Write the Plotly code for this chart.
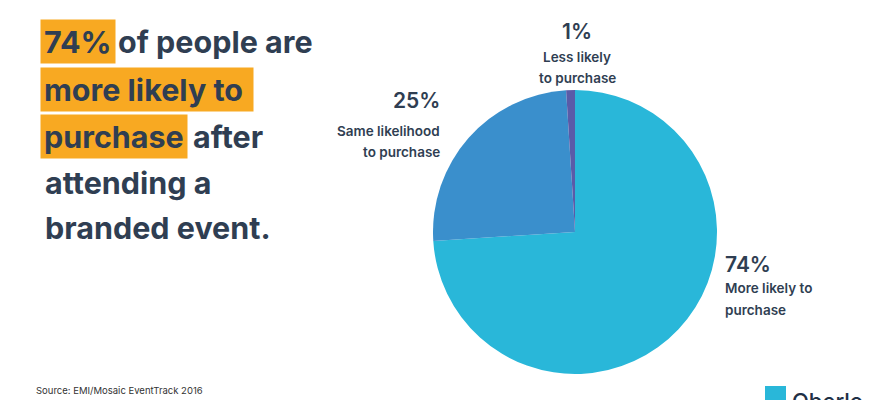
import plotly.graph_objects as go

# Pie data, clockwise from 12 o'clock
labels = ["More likely to purchase", "Same likelihood to purchase", "Less likely to purchase"]
values = [74, 25, 1]
colors = ["#29b7d9", "#3a8fcc", "#5a5ba8"]

W, H = 870, 400
NAVY = "#2f3e52"
ORANGE = "#f8a922"
FONT = "Inter"


def px(x):
    return x / W


def py(y):
    return 1 - y / H


fig = go.Figure(go.Pie(
    labels=labels, values=values, sort=False, direction="clockwise", rotation=0,
    marker=dict(colors=colors, line=dict(width=0)),
    textinfo="none", hoverinfo="label+percent",
    domain=dict(x=[px(433), px(717)], y=[py(374), py(90)]),
))

ann = []


def text(x, y, s, size, anchor="left", bg=None, weight="bold", color=NAVY):
    ann.append(dict(
        x=px(x), y=py(y), xref="paper", yref="paper", text=s, showarrow=False,
        xanchor=anchor, yanchor="middle",
        font=dict(family=FONT, size=size, color=color, weight=weight),
        bgcolor=bg, borderpad=3 if bg else 0,
    ))


# headline with highlighted words
text(40, 42, "74%", 30.5, bg=ORANGE)
text(117, 42, "of people are", 30.5)
text(40, 89, "more likely to ", 30.5, bg=ORANGE)
text(40, 136, "purchase", 30.5, bg=ORANGE)
text(192, 136, "after", 30.5)
text(44, 182, "attending a", 30.5)
text(44, 227, "branded event.", 30.5)

# slice labels
text(577, 32, "1%", 21, anchor="center", weight=600)
text(577, 57, "Less likely", 13.5, anchor="center", weight=600)
text(577, 78, "to purchase", 13.5, anchor="center", weight=600)

text(441, 101, "25%", 21, anchor="right", weight=600)
text(441, 131, "Same likelihood", 13.5, anchor="right", weight=600)
text(441, 152, "to purchase", 13.5, anchor="right", weight=600)

text(724, 264, "74%", 21, weight=600)
text(724, 288, "More likely to", 13.5, weight=600)
text(724, 310, "purchase", 13.5, weight=600)

# source and logo
text(35, 390, "Source: EMI/Mosaic EventTrack 2016", 9.5, weight="normal", color="#333333")
text(791, 401, "Oberlo", 22, weight=500, color="#1f3046")

fig.update_layout(
    width=W, height=H, margin=dict(l=0, r=0, t=0, b=0),
    paper_bgcolor="white", plot_bgcolor="white", showlegend=False,
    annotations=ann,
    shapes=[dict(type="rect", xref="paper", yref="paper",
                 x0=px(765), x1=px(786), y0=py(406), y1=py(386),
                 fillcolor="#29b7d9", line=dict(width=0))],
)

fig.write_html("out.html", config={"displayModeBar": False},
               post_script="document.body.style.margin = '0';")
